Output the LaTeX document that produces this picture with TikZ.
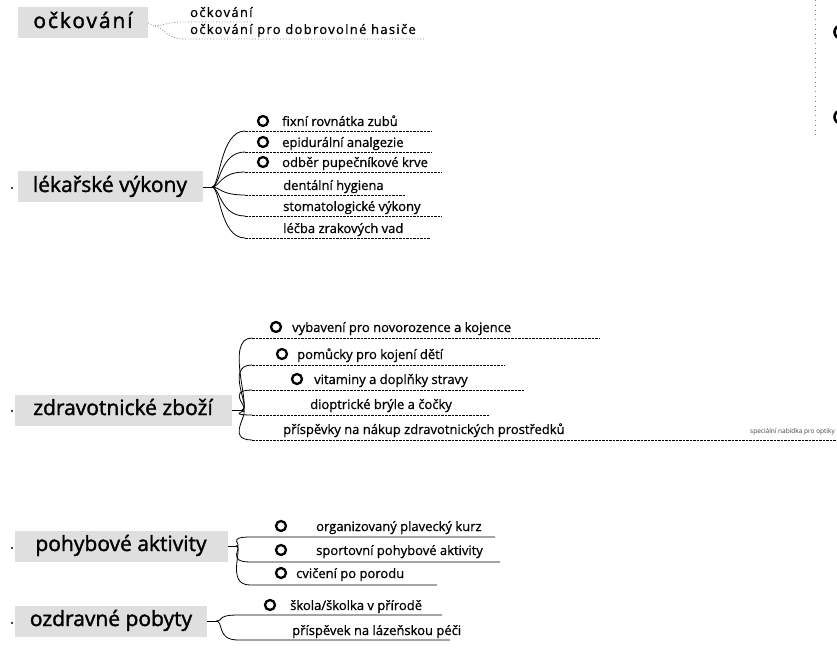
\documentclass[tikz,border=0pt]{standalone}
\usepackage{fontspec}
\setmainfont{Open Sans}
\begin{document}
\begin{tikzpicture}[x=1pt,y=-1pt,
  mainbox/.style={fill=gray!25, font=\fontsize{21}{25}\selectfont\addfontfeature{FakeBold=1.6}, text height=15pt, text depth=5pt, inner xsep=6pt, inner ysep=5.5pt},
  leaf/.style={anchor=base west, inner sep=0pt, font=\fontsize{13}{15}\selectfont\addfontfeature{FakeBold=0.8}},
  spaced/.style={font=\fontsize{13}{15}\selectfont\addfontfeature{LetterSpace=10,FakeBold=0.8}},
  ring/.style={circle, draw, line width=2.3pt, minimum size=10pt, inner sep=0pt},
  conn/.style={line width=0.8pt},
  dotconn/.style={gray, line width=0.8pt, dotted},
  dashconn/.style={line width=0.7pt, dash pattern=on 2.5pt off 1pt},
  dotmark/.style={circle, fill=black, inner sep=0pt, minimum size=2.2pt}]
\useasboundingbox (0,0) rectangle (837,668);

% ---------- očkování ----------
\node[mainbox, minimum width=130pt, font=\fontsize{21}{25}\selectfont\addfontfeature{FakeBold=1.6,LetterSpace=9}] (m1) at (83,23) {očkování};
\coordinate (j1) at (155,26);
\node[leaf, spaced] (c11) at (190,17) {očkování};
\node[leaf, spaced] (c12) at (190,34) {očkování pro dobrovolné hasiče};
\coordinate (s11) at (182,22); \coordinate (e11) at (252,22);
\coordinate (s12) at (182,39); \coordinate (e12) at (425,39);
\draw[dotconn] (m1.east) -- (j1);
\draw[dotconn] (j1) .. controls +(6,0) and +(-14,0) .. (s11) -- (e11);
\draw[dotconn] (j1) .. controls +(6,0) and +(-14,0) .. (s12) -- (e12);

% ---------- lékařské výkony ----------
\node[mainbox, minimum width=185pt] (m2) at (110,187) {lékařské výkony};
\node[dotmark] (d2) at (12,188) {};
\coordinate (j2) at (212,187);
\draw[conn] (m2.east) -- (j2);
\node[ring] (r21) at (263,121) {};
\node[ring] (r22) at (263,142) {};
\node[ring] (r23) at (263,162) {};
\node[leaf] (c21) at (282,126) {fixní rovnátka zubů};
\node[leaf] (c22) at (282,147) {epidurální analgezie};
\node[leaf] (c23) at (282,167) {odběr pupečníkové krve};
\node[leaf] (c24) at (283,190) {dentální hygiena};
\node[leaf] (c25) at (283,211) {stomatologické výkony};
\node[leaf] (c26) at (283,233) {léčba zrakových vad};
\coordinate (s21) at (245,131); \coordinate (e21) at (432,131);
\coordinate (s22) at (245,152); \coordinate (e22) at (432,152);
\coordinate (s23) at (245,172); \coordinate (e23) at (442,172);
\coordinate (s24) at (245,195); \coordinate (e24) at (405,195);
\coordinate (s25) at (245,216); \coordinate (e25) at (442,216);
\coordinate (s26) at (245,238); \coordinate (e26) at (430,238);
\foreach \k in {1,...,6}{
  \draw[conn] (j2) .. controls +(8,0) and +(-25,0) .. (s2\k);
  \draw[dashconn] (s2\k) -- (e2\k);
}

% ---------- zdravotnické zboží ----------
\node[mainbox, minimum width=217pt] (m3) at (123,410) {zdravotnické zboží};
\node[dotmark] (d3) at (12,411) {};
\coordinate (j3) at (242,410);
\draw[conn] (m3.east) -- (j3);
\node[ring] (r31) at (276,327) {};
\node[ring] (r32) at (282,354) {};
\node[ring] (r33) at (297,379) {};
\node[leaf] (c31) at (292,332) {vybavení pro novorozence a kojence};
\node[leaf] (c32) at (297,359) {pomůcky pro kojení dětí};
\node[leaf] (c33) at (314,384) {vitaminy a doplňky stravy};
\node[leaf] (c34) at (310,409) {dioptrické brýle a čočky};
\node[leaf] (c35) at (283,434) {příspěvky na nákup zdravotnických prostředků};
\node[anchor=base east, inner sep=0pt, font=\fontsize{6.5}{7}\selectfont, text=black!75] (x35) at (835,433) {speciální nabídka pro optiky};
\coordinate (s31) at (252,338); \coordinate (e31) at (600,338);
\coordinate (s32) at (252,365); \coordinate (e32) at (505,365);
\coordinate (s33) at (252,390); \coordinate (e33) at (525,390);
\coordinate (s34) at (252,415); \coordinate (e34) at (490,415);
\coordinate (s35) at (252,440); \coordinate (e35) at (837,440);
\foreach \k in {1,...,5}{
  \draw[conn] (j3) .. controls +(10,0) and +(-28,0) .. (s3\k);
  \draw[dashconn] (s3\k) -- (e3\k);
}

% ---------- pohybové aktivity ----------
\node[mainbox, minimum width=213pt] (m4) at (121,546) {pohybové aktivity};
\node[dotmark] (d4) at (12,548) {};
\coordinate (j4) at (236,546);
\draw[conn] (m4.east) -- (j4);
\node[ring] (r41) at (281,526) {};
\node[ring] (r42) at (281,550) {};
\node[ring] (r43) at (281,573) {};
\node[leaf] (c41) at (316,531) {organizovaný plavecký kurz};
\node[leaf] (c42) at (316,555) {sportovní pohybové aktivity};
\node[leaf] (c43) at (296,578) {cvičení po porodu};
\coordinate (s41) at (250,537); \coordinate (e41) at (495,537);
\coordinate (s42) at (250,562); \coordinate (e42) at (500,562);
\coordinate (s43) at (250,585); \coordinate (e43) at (437,585);
\foreach \k in {1,...,3}{
  \draw[conn] (j4) .. controls +(8,0) and +(-25,0) .. (s4\k) -- (e4\k);
}

% ---------- ozdravné pobyty ----------
\node[mainbox, minimum width=192pt] (m5) at (111,621) {ozdravné pobyty};
\node[dotmark] (d5) at (12,623) {};
\coordinate (j5) at (216,621);
\draw[conn] (m5.east) -- (j5);
\node[ring] (r51) at (270,605) {};
\node[leaf] (c51) at (290,610) {škola/školka v přírodě};
\node[leaf] (c52) at (292,635) {příspěvek na lázeňskou péči};
\coordinate (s51) at (238,615); \coordinate (e51) at (442,615);
\coordinate (s52) at (238,640); \coordinate (e52) at (450,640);
\foreach \k in {1,2}{
  \draw[conn] (j5) .. controls +(8,0) and +(-22,0) .. (s5\k) -- (e5\k);
}

% ---------- right edge fragments ----------
\node[ring, minimum size=13pt, line width=2.6pt] (ra) at (841,32) {};
\node[ring, minimum size=13pt, line width=2.6pt] (rb) at (841,117) {};
\draw[gray, line width=0.8pt, loosely dotted] (815,0) -- (815,135);
\end{tikzpicture}
\end{document}
